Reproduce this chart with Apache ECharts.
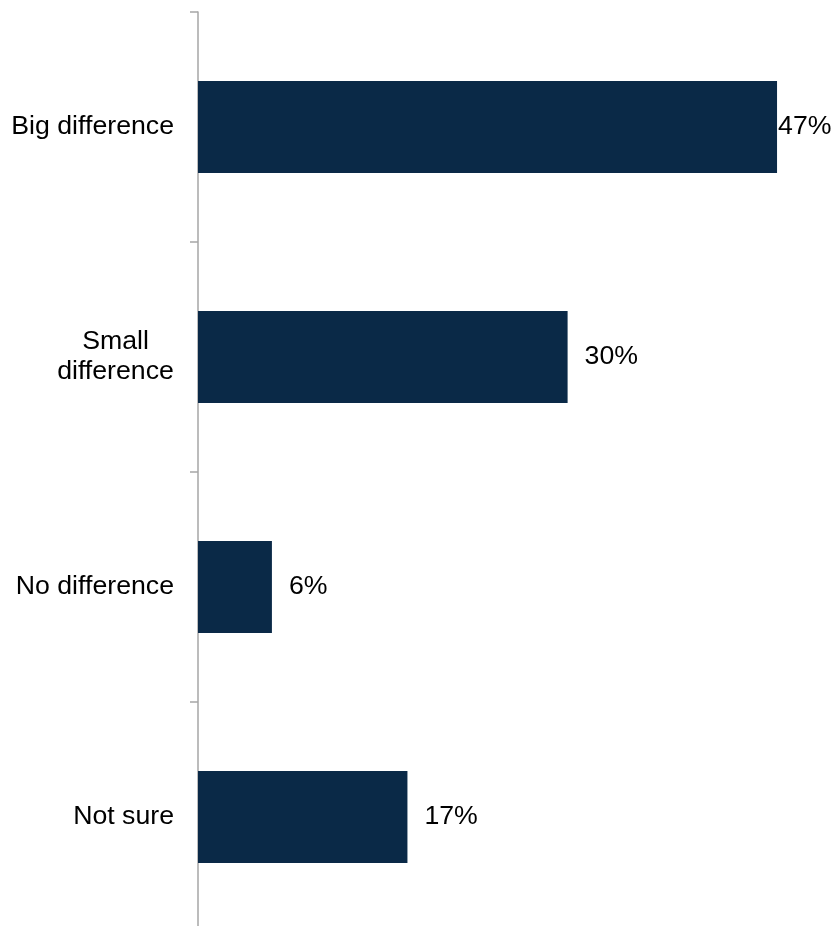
<!DOCTYPE html>
<html>
<head>
<meta charset="utf-8">
<script src="https://cdn.jsdelivr.net/npm/echarts@6/dist/echarts.min.js"></script>
<style>
html,body{margin:0;padding:0;background:#fff;}
#chart{width:834px;height:926px;}
</style>
</head>
<body>
<div id="chart"></div>
<script>
var categories = ['Big difference', 'Small\ndifference', 'No difference', 'Not sure'];
var values = [47, 30, 6, 17];
var labelDistances = [1, 17, 17, 17];

var chart = echarts.init(document.getElementById('chart'));
var fontFamily = '"Liberation Sans", Arial, sans-serif';
var fs = 26.7;
chart.setOption({
  animation: false,
  grid: {
    left: 198, top: 12, width: 616, height: 920,
    containLabel: false,
    outerBoundsMode: 'none'
  },
  xAxis: {
    type: 'value', min: 0, max: 50, show: false
  },
  yAxis: {
    type: 'category',
    data: categories,
    inverse: true,
    axisLine: { show: true, lineStyle: { color: '#a6a6a6', width: 1.5 } },
    axisTick: { show: true, length: 8, lineStyle: { color: '#a6a6a6', width: 1.5 } },
    axisLabel: {
      margin: 24, color: '#000', fontSize: fs, fontFamily: fontFamily,
      lineHeight: 30, align: 'right',
      formatter: function (v) {
        if (v.indexOf('\n') < 0) return v;
        return v.split('\n').map(function (s) { return '{c|' + s + '}'; }).join('\n');
      },
      rich: {
        c: { width: 117, align: 'center', fontSize: fs, fontFamily: fontFamily, color: '#000', lineHeight: 30 }
      }
    },
    splitLine: { show: false }
  },
  series: [{
    type: 'bar',
    barWidth: '40%',
    itemStyle: { color: '#0a2947' },
    data: values.map(function (v, i) {
      return { value: v, label: { distance: labelDistances[i] } };
    }),
    label: {
      show: true, position: 'right', color: '#000', fontSize: fs,
      fontFamily: fontFamily,
      formatter: function (p) { return p.value + '%'; }
    }
  }]
});
</script>
</body>
</html>
